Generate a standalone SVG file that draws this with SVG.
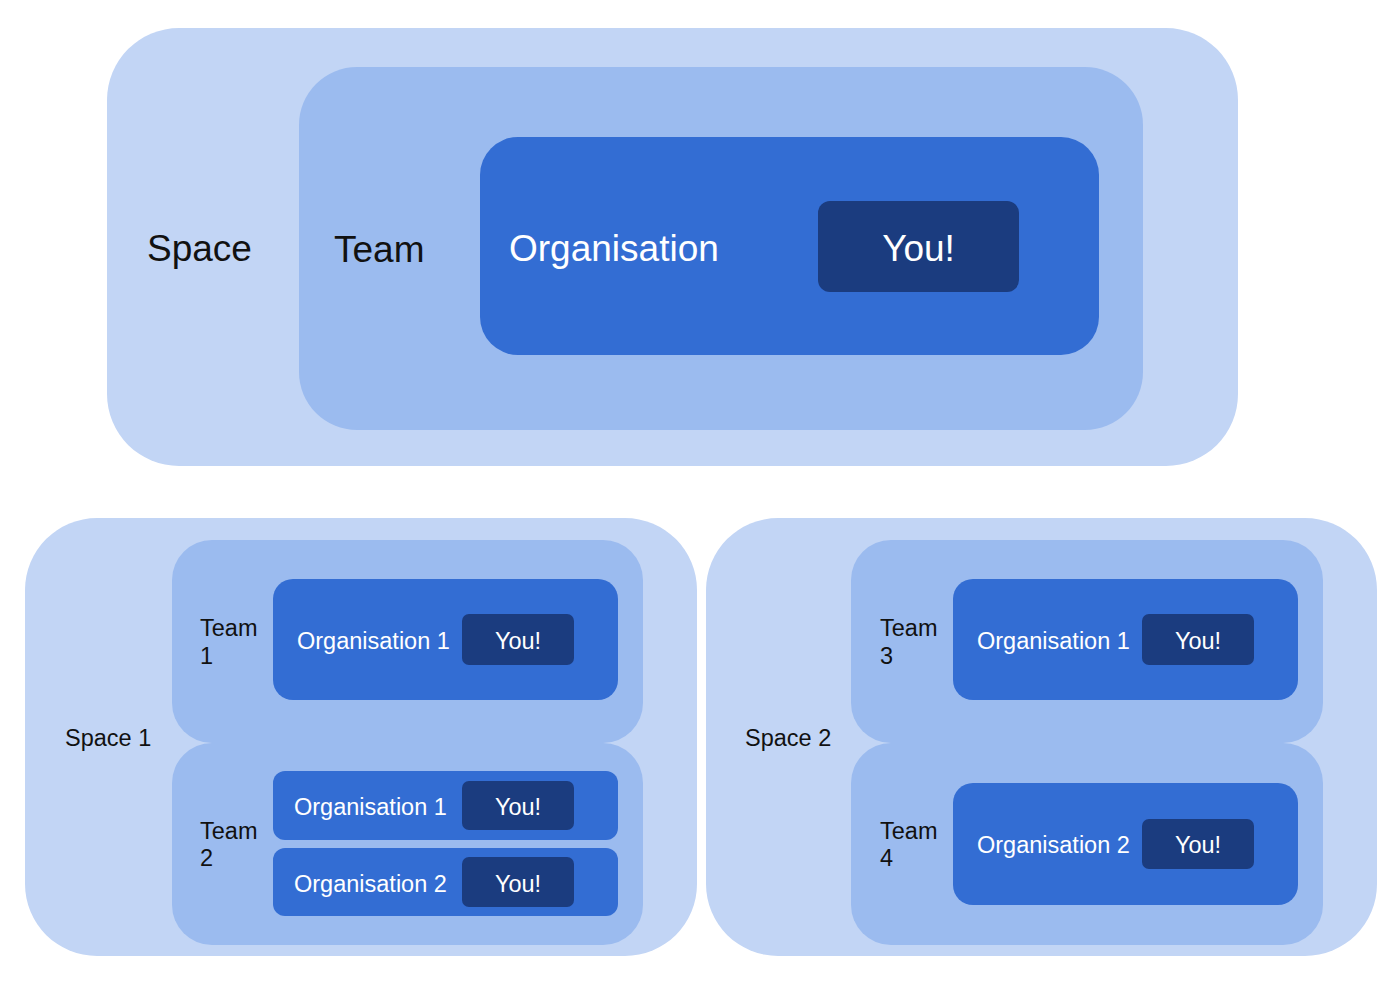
<svg xmlns="http://www.w3.org/2000/svg" width="1400" height="994" viewBox="0 0 1400 994">
<style>
.space{fill:#c2d5f5}
.team{fill:#9bbbef}
.org{fill:#336dd3}
.you{fill:#1b3c7f}
text{font-family:"Liberation Sans",Arial,sans-serif}
.dk{fill:#111111}
.wt{fill:#ffffff}
.big{font-size:37px}
.sm{font-size:23.5px}
</style>
<rect width="1400" height="994" fill="#ffffff"/>
<g id="space-top">
<rect class="space" x="107" y="28" width="1131" height="438" rx="72"/>
<text class="dk big" x="147" y="261">Space</text>
</g>
<g id="team-top">
<rect class="team" x="299" y="67" width="844" height="363" rx="58"/>
<text class="dk big" x="334" y="262">Team</text>
</g>
<g id="org-top">
<rect class="org" x="480" y="137" width="619" height="218" rx="38"/>
<text class="wt big" x="509" y="261">Organisation</text>
</g>
<g id="you-top">
<rect class="you" x="818" y="201" width="201" height="91" rx="12"/>
<text class="wt big" x="918.5" y="261" text-anchor="middle">You!</text>
</g>

<g id="space1">
<rect class="space" x="25" y="518" width="672" height="438" rx="72"/>
<text class="dk sm" x="65" y="746">Space 1</text>
</g>
<g id="team1">
<rect class="team" x="172" y="540" width="471" height="203" rx="40"/>
<text class="dk sm" x="200" y="636">Team</text>
<text class="dk sm" x="200" y="664">1</text>
</g>
<g id="team2">
<rect class="team" x="172" y="743" width="471" height="202" rx="40"/>
<text class="dk sm" x="200" y="839">Team</text>
<text class="dk sm" x="200" y="866">2</text>
</g>
<g id="s1-t1-org1">
<rect class="org" x="273" y="579" width="345" height="121" rx="20"/>
<text class="wt sm" x="297" y="649">Organisation 1</text>
</g>
<g id="s1-t1-you">
<rect class="you" x="462" y="614" width="112" height="51" rx="7"/>
<text class="wt sm" x="518" y="649" text-anchor="middle">You!</text>
</g>
<g id="s1-t2-org1">
<rect class="org" x="273" y="771" width="345" height="69" rx="12"/>
<text class="wt sm" x="294" y="815">Organisation 1</text>
</g>
<g id="s1-t2-you1">
<rect class="you" x="462" y="781" width="112" height="49" rx="7"/>
<text class="wt sm" x="518" y="815" text-anchor="middle">You!</text>
</g>
<g id="s1-t2-org2">
<rect class="org" x="273" y="848" width="345" height="68" rx="12"/>
<text class="wt sm" x="294" y="892">Organisation 2</text>
</g>
<g id="s1-t2-you2">
<rect class="you" x="462" y="857" width="112" height="50" rx="7"/>
<text class="wt sm" x="518" y="892" text-anchor="middle">You!</text>
</g>

<g id="space2">
<rect class="space" x="706" y="518" width="671" height="438" rx="72"/>
<text class="dk sm" x="745" y="746">Space 2</text>
</g>
<g id="team3">
<rect class="team" x="851" y="540" width="472" height="203" rx="40"/>
<text class="dk sm" x="880" y="636">Team</text>
<text class="dk sm" x="880" y="664">3</text>
</g>
<g id="team4">
<rect class="team" x="851" y="743" width="472" height="202" rx="40"/>
<text class="dk sm" x="880" y="839">Team</text>
<text class="dk sm" x="880" y="866">4</text>
</g>
<g id="s2-t3-org1">
<rect class="org" x="953" y="579" width="345" height="121" rx="20"/>
<text class="wt sm" x="977" y="649">Organisation 1</text>
</g>
<g id="s2-t3-you">
<rect class="you" x="1142" y="614" width="112" height="51" rx="7"/>
<text class="wt sm" x="1198" y="649" text-anchor="middle">You!</text>
</g>
<g id="s2-t4-org2">
<rect class="org" x="953" y="783" width="345" height="122" rx="20"/>
<text class="wt sm" x="977" y="853">Organisation 2</text>
</g>
<g id="s2-t4-you">
<rect class="you" x="1142" y="819" width="112" height="50" rx="7"/>
<text class="wt sm" x="1198" y="853" text-anchor="middle">You!</text>
</g>
<g id="connectors"></g>
</svg>
